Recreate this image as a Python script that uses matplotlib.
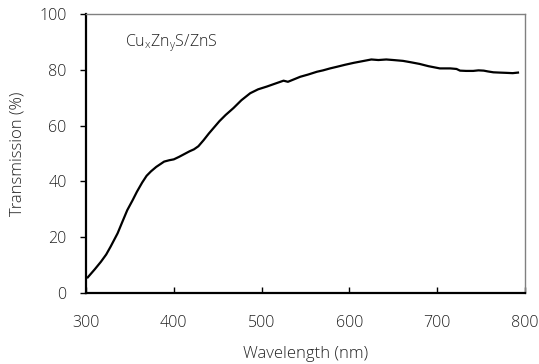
import numpy as np
import matplotlib
matplotlib.use("Agg")
import matplotlib.pyplot as plt

plt.rcParams['font.family'] = ['Open Sans', 'DejaVu Sans']
plt.rcParams['font.weight'] = 'light'
plt.rcParams['axes.labelweight'] = 'light'
plt.rcParams['mathtext.fontset'] = 'custom'
plt.rcParams['mathtext.rm'] = 'Open Sans:light'

# wavelength (nm) and transmission (%)
wavelength = [302, 310, 317, 323, 328, 332, 336, 341, 347, 353, 358, 364, 369, 374,
              380, 389, 395, 400, 406, 412, 418, 423, 428, 434, 440, 446, 452, 459,
              468, 477, 487, 496, 506, 515, 525, 530, 537, 544, 553, 563, 570, 578,
              586, 595, 605, 615, 625, 633, 642, 650, 661, 670, 680, 690, 703, 715,
              722, 726, 733, 741, 747, 753, 758, 764, 771, 779, 786, 792]
transmission = [5.6, 8.5, 11.2, 13.8, 16.6, 19.0, 21.4, 25.2, 29.7, 33.2, 36.3, 39.6, 42.0, 43.6,
                45.2, 47.1, 47.6, 47.9, 48.8, 49.8, 50.8, 51.5, 52.6, 54.8, 57.2, 59.4, 61.6, 63.8,
                66.3, 69.1, 71.6, 73.0, 74.0, 75.0, 76.1, 75.7, 76.6, 77.5, 78.3, 79.3, 79.8, 80.5,
                81.1, 81.8, 82.5, 83.1, 83.7, 83.5, 83.7, 83.5, 83.2, 82.7, 82.1, 81.3, 80.5, 80.5,
                80.3, 79.7, 79.6, 79.6, 79.8, 79.7, 79.4, 79.1, 79.0, 78.9, 78.8, 79.0]

x_ticks = [300, 400, 500, 600, 700, 800]
y_ticks = [0, 20, 40, 60, 80, 100]

fig = plt.figure(figsize=(5.39, 3.64), dpi=100)
ax = fig.add_axes([86 / 539, 1 - 293 / 364, (525 - 86) / 539, (293 - 14) / 364])

ax.plot(wavelength, transmission, color='black', lw=1.6)

ax.set_xlim(300, 800)
ax.set_ylim(0, 100)
ax.set_xticks(x_ticks)
ax.set_yticks(y_ticks)

ax.tick_params(axis='x', direction='in', length=4, width=1, pad=16, labelsize=11.5,
               labelcolor='#222222')
ax.tick_params(axis='y', direction='out', length=4, width=1, pad=10, labelsize=11.5,
               labelcolor='#222222')

for s in ['left', 'bottom']:
    ax.spines[s].set_color('black')
    ax.spines[s].set_linewidth(1.6)
for s in ['top', 'right']:
    ax.spines[s].set_color('#808080')
    ax.spines[s].set_linewidth(1.0)

ax.set_xlabel('Wavelength (nm)', fontsize=12, labelpad=11, color='#222222')
ax.set_ylabel('Transmission (%)', fontsize=12, labelpad=10, color='#222222')

ax.text(344, 89.5, r'Cu$_\mathregular{x}$Zn$_\mathregular{y}$S/ZnS', fontsize=11.5,
        va='center', color='#222222')

fig.savefig('out.png', dpi=100)
